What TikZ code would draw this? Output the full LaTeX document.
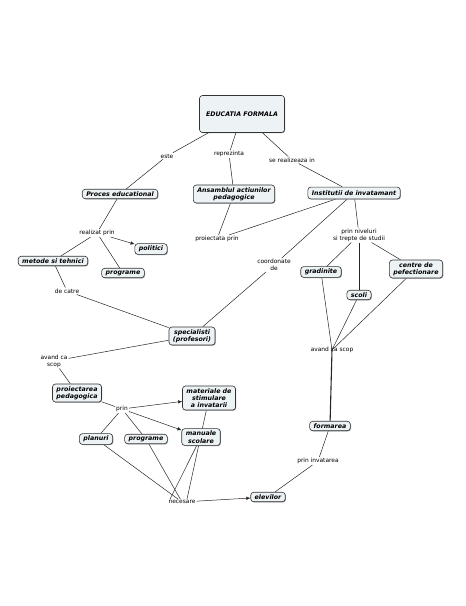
\documentclass[tikz,border=0pt]{standalone}
\usepackage{fontspec}
\setmainfont{DejaVu Sans}
\usetikzlibrary{arrows.meta,shadows,backgrounds}
\definecolor{cfill}{HTML}{EDF2F5}
\tikzset{
 concept/.style={draw=black!80, line width=0.6pt, fill=cfill, rounded corners=3pt,
   font=\fontsize{6.3}{7.3}\selectfont\bfseries\itshape, align=center,
   inner xsep=4pt, inner ysep=2.3pt,
   drop shadow={shadow xshift=0.7pt, shadow yshift=-0.7pt, fill=black!45, opacity=0.9}},
 lbl/.style={font=\fontsize{5.9}{6.9}\selectfont, align=center, inner sep=1pt},
 link/.style={draw=black!85, line width=0.5pt},
 arr/.style={link, -{Latex[length=4pt,width=3.5pt]}},
 thick link/.style={draw=black!85, line width=1.1pt},
}
\begin{document}
\begin{tikzpicture}[x=1pt,y=-1pt]
\useasboundingbox (0,0) rectangle (466,606);
% concepts
\node[concept, minimum width=85pt, minimum height=37pt] (edu) at (242,114) {EDUCATIA FORMALA};
\node[concept] (proc) at (120,194) {Proces educational};
\node[concept] (ans) at (234,194) {Ansamblul actiunilor\\pedagogice};
\node[concept, inner ysep=3.5pt] (inst) at (354,193) {Institutii de invatamant};
\node[concept] (pol) at (151,249) {politici};
\node[concept] (met) at (53,261) {metode si tehnici};
\node[concept] (prog1) at (123,273) {programe};
\node[concept] (grad) at (321,272) {gradinite};
\node[concept] (centre) at (416,269) {centre de\\pefectionare};
\node[concept] (scoli) at (359,295) {scoli};
\node[concept] (spec) at (192,336) {specialisti\\(profesori)};
\node[concept] (proi) at (77,393) {proiectarea\\pedagogica};
\node[concept] (mat) at (209,398) {materiale de\\stimulare\\a invatarii};
\node[concept] (plan) at (96,439) {planuri};
\node[concept] (prog2) at (146,439) {programe};
\node[concept] (man) at (201,437) {manuale\\scolare};
\node[concept] (elev) at (268,497) {elevilor};
\node[concept] (form) at (330,426) {formarea};
% linking phrases
\node[lbl] (lEste) at (167,156) {este};
\node[lbl] (lRep) at (229,154) {reprezinta};
\node[lbl] (lReal) at (292,160) {se realizeaza in};
\node[lbl] (lRp) at (97,233) {realizat prin};
\node[lbl] (lPp) at (217,239) {proiectata prin};
\node[lbl] (lCoord) at (274,265) {coordonate\\de};
\node[lbl] (lNiv) at (359,235) {prin niveluri\\si trepte de studii};
\node[lbl] (lDc) at (67,291) {de catre};
\node[lbl] (lAcsA) at (332,350) {avand ca scop};
\node[lbl] (lAcsB) at (54,361) {avand ca\\scop};
\node[lbl] (lPrin) at (122,409) {prin};
\node[lbl] (lNec) at (182,502) {necesare};
\node[lbl] (lPi) at (318,461) {prin invatarea};
\coordinate (necA) at ([xshift=-12pt]lNec.north);
\coordinate (necB) at ([xshift=5pt]lNec.north);
% connectors
\begin{scope}[on background layer]
\fill[white] (0,0) rectangle (466,606);
\draw[link] (edu) -- (lEste) -- (proc);
\draw[link] (edu) -- (lRep) -- (ans);
\draw[link] (edu) -- (lReal) -- (inst);
\draw[link] (proc) -- (lRp);
\draw[arr] (lRp) -- (pol);
\draw[link] (lRp) -- (met);
\draw[link] (lRp) -- (prog1);
\draw[link] (ans) -- (lPp) -- (inst);
\draw[link] (inst) -- (lCoord) -- (spec);
\draw[link] (inst) -- (lNiv);
\draw[link] (lNiv) -- (grad);
\draw[link] (lNiv) -- (scoli);
\draw[link] (lNiv) -- (centre);
\draw[link] (met) -- (lDc) -- (spec);
\draw[link] (grad) -- (lAcsA.center);
\draw[link] (scoli) -- (lAcsA.center);
\draw[link] (centre) -- (lAcsA.center);
\draw[thick link] (lAcsA.center) -- (form);
\draw[link] (spec) -- (lAcsB) -- (proi);
\draw[link] (proi) -- (lPrin);
\draw[arr] (lPrin) -- (mat);
\draw[arr] (lPrin) -- (man);
\draw[link] (lPrin) -- (plan);
\draw[link] (lPrin) -- (prog2);
\draw[link] (mat) -- (necB);
\draw[link] (man) -- (necA);
\draw[link] (plan) -- (lNec);
\draw[link] (prog2) -- (lNec);
\draw[arr] (lNec) -- (elev);
\draw[link] (form) -- (lPi) -- (elev);
\end{scope}
\end{tikzpicture}
\end{document}
